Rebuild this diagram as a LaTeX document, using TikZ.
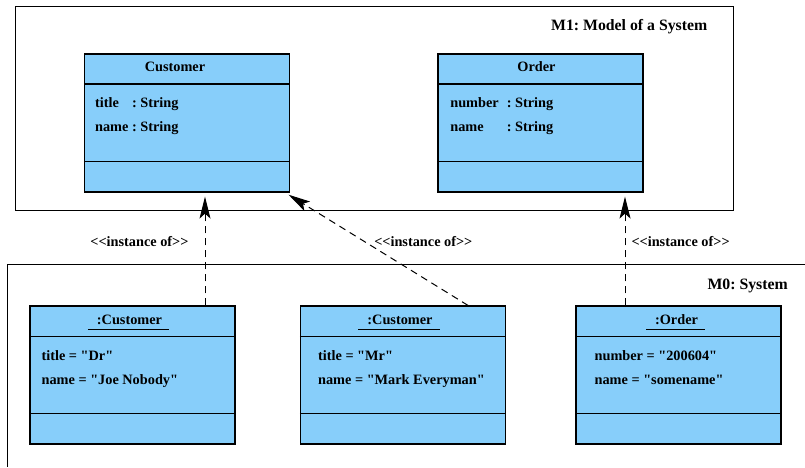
\documentclass[tikz,border=0pt]{standalone}
\usepackage{fontspec}
\setmainfont{Liberation Serif}[Ligatures=TeXOff]
\usetikzlibrary{arrows.meta}
\definecolor{classblue}{RGB}{135,206,250}
\frenchspacing
\newcommand{\objname}[1]{\setbox0\hbox{\hspace{9pt}#1\hspace{7pt}}\rlap{\raisebox{-5.5pt}{\rule{\wd0}{1.1pt}}}\box0}
\newcommand{\instof}{<\kern0pt<instance of>\kern0pt>}

\begin{document}
\begin{tikzpicture}
[
x=1pt, y=-1pt,
txt/.style={font=\fontsize{14.3}{24}\selectfont\bfseries, inner sep=0pt},
frametitle/.style={font=\fontsize{15.8}{19}\selectfont\bfseries, inner sep=0pt, anchor=base east},
framebox/.style={rectangle, draw=black, line width=1pt, inner sep=0pt},
frameline/.style={draw=black, line width=1pt},
umlbox/.style={rectangle, draw=black, line width=1.2pt, fill=classblue, minimum width=205pt, minimum height=138pt, inner sep=0pt},
boxline/.style={draw=black, line width=1.2pt},
inst/.style={draw=black, line width=1pt, dash pattern=on 7pt off 5pt, -{Stealth[length=22pt,width=11pt,inset=5pt]}, shorten >=4pt}
]
\useasboundingbox (0,0) rectangle (805,467);

%Frames
\node[framebox, minimum width=718pt, minimum height=204pt] (m1) at (374,108) {};
\coordinate (m0) at (7,264);
\draw[frameline] (805,264) -- (m0) -- (7,467);
\node[frametitle] (m1_title) at ([xshift=-26pt,yshift=-24.5pt]m1.north east) {M1: Model of a System};
\node[frametitle] (m0_title) at (788,289) {M0: System};

%Nodes
\node[umlbox]   (cust)      at (187,123)   {};
\node[umlbox]   (order)     at (540.5,123) {};
\node[umlbox]   (cust_dr)   at (132.5,375) {};
\node[umlbox]   (cust_mr)   at (403,375)   {};
\node[umlbox]   (order_obj) at (678.5,375) {};

\foreach \n/\h in {cust/30.5, order/30.5, cust_dr/31, cust_mr/31, order_obj/31}
{
  \draw[boxline] ([yshift=-\h pt]\n.north west) -- ([yshift=-\h pt]\n.north east);
  \draw[boxline] ([yshift=-108pt]\n.north west) -- ([yshift=-108pt]\n.north east);
}

%Names
\node[txt, anchor=base] (cust_name)      at ([xshift=-12pt,yshift=-18pt]cust.north)     {Customer};
\node[txt, anchor=base] (order_name)     at ([xshift=-4pt,yshift=-18pt]order.north)     {Order};
\node[txt, anchor=base] (cust_dr_name)   at ([xshift=-4pt,yshift=-19pt]cust_dr.north)   {\objname{:Customer}};
\node[txt, anchor=base] (cust_mr_name)   at ([xshift=-4pt,yshift=-19pt]cust_mr.north)   {\objname{:Customer}};
\node[txt, anchor=base] (order_obj_name) at ([xshift=-3pt,yshift=-19pt]order_obj.north) {\objname{:Order}};

%Attributes
\node[txt, anchor=base west] (cust_attr) at ([xshift=11pt,yshift=-54pt]cust.north west)
  {\begin{tabular}[t]{@{}l@{\ }l@{}}title & : String\\ name & : String\end{tabular}};
\node[txt, anchor=base west] (order_attr) at ([xshift=12.7pt,yshift=-54pt]order.north west)
  {\begin{tabular}[t]{@{}l@{\hspace{8pt}}l@{}}number & : String\\ name & : String\end{tabular}};
\node[txt, anchor=base west] (cust_dr_attr) at ([xshift=12pt,yshift=-55pt]cust_dr.north west)
  {\begin{tabular}[t]{@{}l@{}}title = "Dr"\\ name = "Joe Nobody"\end{tabular}};
\node[txt, anchor=base west] (cust_mr_attr) at ([xshift=18pt,yshift=-55pt]cust_mr.north west)
  {\begin{tabular}[t]{@{}l@{}}title = "Mr"\\ name = "Mark Everyman"\end{tabular}};
\node[txt, anchor=base west] (order_obj_attr) at ([xshift=19pt,yshift=-55pt]order_obj.north west)
  {\begin{tabular}[t]{@{}l@{}}number = "200604"\\ name = "somename"\end{tabular}};

%Lines
\draw[inst] ([xshift=72.5pt]cust_dr.north) -- ([xshift=18pt]cust.south)
  node[txt, pos=0.57, left=16pt] (inst_dr) {\instof};
\draw[inst] ([xshift=65pt]cust_mr.north) -- ([xshift=-5pt]cust.south east)
  node[txt, pos=0.57, right=10pt] (inst_mr) {\instof};
\draw[inst] ([xshift=-53.5pt]order_obj.north) -- ([xshift=84.5pt]order.south)
  node[txt, pos=0.57, right=6pt] (inst_order) {\instof};
\end{tikzpicture}
\end{document}
